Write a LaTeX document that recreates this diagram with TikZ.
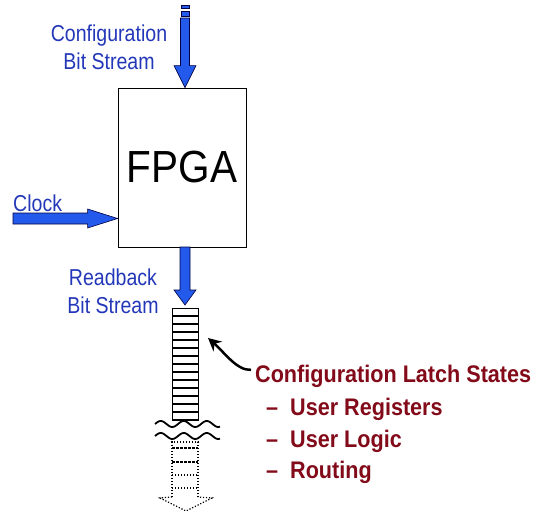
\documentclass[tikz,border=0pt]{standalone}
\usepackage{fontspec}
\usetikzlibrary{calc,arrows.meta}
\newfontfamily\narrowsf[FakeStretch=0.85]{Liberation Sans}
\newfontfamily\latchsf[FakeStretch=0.9]{Liberation Sans}
\newfontfamily\chipsf[FakeStretch=0.9]{Liberation Sans}
\definecolor{arrowblue}{RGB}{35,90,235}
\definecolor{labelblue}{RGB}{35,55,185}
\definecolor{latchred}{RGB}{130,10,25}
% fat block arrow: from, to, half shaft, half head, head length
\newcommand{\fatarrow}[5]{%
  \coordinate (fa) at ($(#2)!#5!(#1)$);
  \filldraw[fat arrow] ($(#1)!#3!90:(#2)$) -- ($(fa)!#3!-90:(#1)$) -- ($(fa)!#4!-90:(#1)$) -- (#2) -- ($(fa)!#4!90:(#1)$) -- ($(fa)!#3!90:(#1)$) -- ($(#1)!#3!-90:(#2)$) -- cycle;}
\begin{document}
\begin{tikzpicture}[x=1pt, y=-1pt,
  fat arrow/.style={fill=arrowblue, draw=black!75!blue, line width=0.6pt},
  bluelabel/.style={text=labelblue, font=\narrowsf\fontsize{23}{28}\selectfont, align=center, inner sep=0pt},
  latchlabel/.style={text=latchred, font=\latchsf\bfseries\fontsize{24}{28}\selectfont, anchor=base west, inner sep=0pt},
  ghost/.style={line width=1.2pt, dash pattern=on 1.2pt off 1.8pt}]
	\useasboundingbox (0,0) rectangle (536,514);
	% the device
	\node[draw, line width=0.8pt, minimum width=128pt, minimum height=159pt, inner sep=0pt, font=\chipsf\fontsize{45}{50}\selectfont] (fpga) at (182,167.5) {FPGA};
	% configuration bit stream in
	\foreach \ya/\yb in {5/8, 11/16} {\filldraw[fat arrow] (181,\ya) rectangle (189,\yb);}
	\coordinate (cfgin) at (185,18);
	\coordinate (cfgtip) at (cfgin |- fpga.north);
	\fatarrow{cfgin}{cfgtip}{4.5pt}{11pt}{22pt}
	\node[bluelabel, anchor=base] (cfglabel) at (109,69) {Configuration\\Bit Stream};
	% clock
	\node[bluelabel, anchor=base west] (clklabel) at (13,211) {Clock};
	\coordinate (clkin) at (13,218.5);
	\coordinate (clktip) at (clkin -| fpga.west);
	\fatarrow{clkin}{clktip}{5.5pt}{9.5pt}{30pt}
	% readback bit stream out
	\coordinate (rbout) at (185,247);
	\coordinate (stacktop) at (185,305);
	\fatarrow{rbout}{stacktop}{5pt}{11pt}{15pt}
	\node[bluelabel, anchor=base] (rblabel) at (113,313) {Readback\\Bit Stream};
	% latch stack
	\draw[line width=0.8pt] (172,421) -- (172,308) -- (198,308) -- (198,421);
	\foreach \ry in {316,324,...,420} {\draw[line width=1.3pt] (172,\ry) -- (198,\ry);}
	% break
	\foreach \wy in {424,436} {\draw[line width=1.8pt] plot[variable=\t, domain=0:65, samples=60, smooth] ({155+\t},{\wy+3*sin(\t*15.65+180)});}
	% continuation
	\draw[ghost] (172,497) -- (172,442) -- (198,442) -- (198,497);
	\foreach \ry in {448,462} {\draw[line width=1.2pt, dash pattern=on 3pt off 1pt] (172,\ry) -- (198,\ry);}
	\foreach \ry in {475,488} {\draw[ghost] (172,\ry) -- (198,\ry);}
	\draw[ghost] (172,497) -- (160,498) -- (186,511) -- (212,498) -- (198,497);
	% callout
	\node[latchlabel] (latch) at (255,382) {Configuration Latch States};
	\node[latchlabel] (regs) at (266,415) {\makebox[24pt][l]{–}User Registers};
	\node[latchlabel] (logic) at (266,447) {\makebox[24pt][l]{–}User Logic};
	\node[latchlabel] (route) at (266,478) {\makebox[24pt][l]{–}Routing};
	\coordinate (latchpt) at (208,338);
	\draw[line width=2.5pt, -{Stealth[length=13pt, width=13pt]}] ([shift={(-4,-6)}]latch.west) .. controls +(-14,1) and +(16,14) .. (latchpt);
\end{tikzpicture}
\end{document}
